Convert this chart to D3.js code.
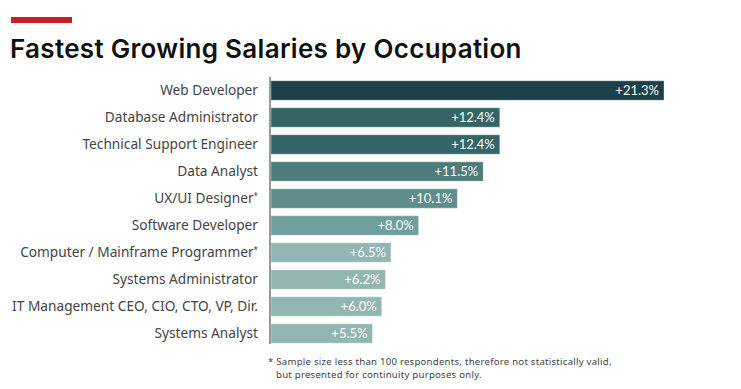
<!DOCTYPE html>
<html><head><meta charset="utf-8">
<script src="https://cdn.jsdelivr.net/npm/d3@7"></script>
<style>body{margin:0;background:#fff;}svg{display:block;}</style>
</head><body>
<svg id="c" width="741" height="389"></svg>
<script>
const categories = ["Web Developer","Database Administrator","Technical Support Engineer","Data Analyst","UX/UI Designer","Software Developer","Computer / Mainframe Programmer","Systems Administrator","IT Management CEO, CIO, CTO, VP, Dir.","Systems Analyst"];
const values = [21.3,12.4,12.4,11.5,10.1,8.0,6.5,6.2,6.0,5.5];
const asterisk = [false,false,false,false,true,false,true,false,false,false];
const colors = ["#1b4048","#356667","#356667","#4d7d7b","#5f8e8a","#6f9f9c","#92b6b2","#92b6b2","#92b6b2","#92b6b2"];
const title = "Fastest Growing Salaries by Occupation";
const footnote = ["* Sample size less than 100 respondents, therefore not statistically valid,","but presented for continuity purposes only."];

const svg = d3.select("#c");
const x0 = 271, plotTop = 77, step = 27;
const x = d3.scaleLinear().domain([0, 21.3]).range([x0, 664]);
const y = d3.scaleBand().domain(categories).range([plotTop, plotTop + step*categories.length]).paddingInner(0.28).paddingOuter(0.14);

svg.append("rect").attr("x",11).attr("y",17).attr("width",61).attr("height",6).attr("fill","#c8202b");
svg.append("text").attr("x",10).attr("y",58).text(title)
  .attr("font-family","Inter, sans-serif").attr("font-weight",600).attr("font-size",26).attr("fill","#111").attr("letter-spacing","0.3");

const g = svg.append("g");
g.selectAll("rect.bar").data(values).join("rect").attr("class","bar")
  .attr("x", x(0)).attr("y",(d,i)=>y(categories[i]))
  .attr("width", d=>x(d)-x(0)).attr("height", y.bandwidth())
  .attr("fill",(d,i)=>colors[i]).attr("stroke","rgba(255,255,255,0.35)").attr("stroke-width",1);

g.selectAll("text.val").data(values).join("text").attr("class","val")
  .attr("x", d=>x(d)-5).attr("y",(d,i)=>y(categories[i])+y.bandwidth()/2)
  .attr("dy","0.36em").attr("text-anchor","end").attr("fill","#fff")
  .attr("font-family","Lato, sans-serif").attr("font-size",13).text(d=>"+"+d.toFixed(1)+"%");

const axis = d3.axisLeft(y).tickSize(0).tickPadding(12);
const ax = svg.append("g").attr("transform",`translate(${x0-1},0)`).call(axis);
ax.select(".domain").attr("stroke","#777").attr("stroke-width",1.5).attr("d",`M0,${plotTop}V${plotTop+step*categories.length-3}`);
ax.selectAll(".tick text").attr("font-family","'Noto Sans', sans-serif").attr("font-size",13.7).attr("fill","#444")
  .each(function(d,i){ if(asterisk[i]){ d3.select(this).append("tspan").attr("font-size",8).attr("dy","-0.5em").text("*"); } });

const fnAttrs = s => s.attr("font-family","'Noto Sans', sans-serif").attr("font-size",9.6).attr("letter-spacing","0.25").attr("fill","#444");
svg.append("text").call(fnAttrs).attr("x",268).attr("y",365).text(footnote[0]);
svg.append("text").call(fnAttrs).attr("x",276).attr("y",378).text(footnote[1]);
</script>
</body></html>
